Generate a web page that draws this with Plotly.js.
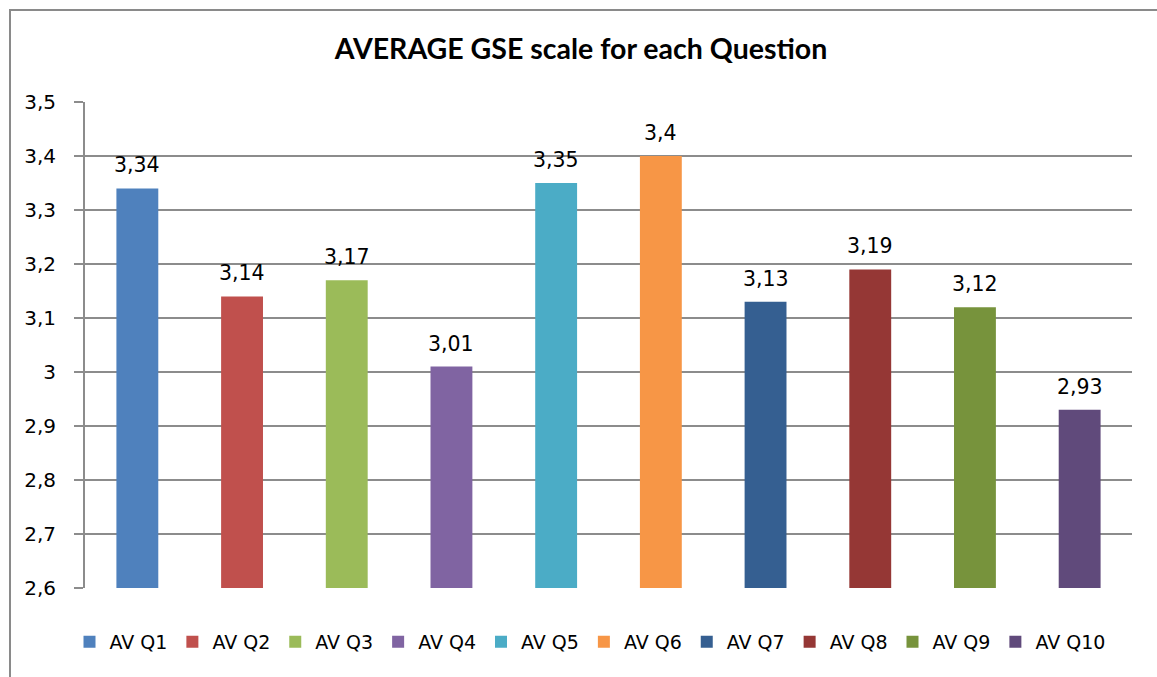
<!DOCTYPE html>
<html>
<head>
<meta charset="utf-8">
<script src="https://cdn.plot.ly/plotly-3.0.1.min.js"></script>
<style>
  html, body { margin: 0; padding: 0; background: #fff; overflow: hidden; }
  #chart { width: 1157px; height: 677px; }
  #frame { position: absolute; left: 9px; top: 9px; width: 1200px; height: 720px;
           border: 2px solid #8a8a8a; pointer-events: none; }
</style>
</head>
<body>
<div id="chart"></div>
<div id="frame"></div>
<script>
const categories = ["AV Q1","AV Q2","AV Q3","AV Q4","AV Q5","AV Q6","AV Q7","AV Q8","AV Q9","AV Q10"];
const values = [3.34, 3.14, 3.17, 3.01, 3.35, 3.4, 3.13, 3.19, 3.12, 2.93];
const colors = ["#4F81BD","#C0504D","#9BBB59","#8064A2","#4BACC6","#F79646","#355F91","#953735","#77933C","#604A7B"];
const tickValues = [2.6, 2.7, 2.8, 2.9, 3.0, 3.1, 3.2, 3.3, 3.4, 3.5];
const tickLabels = ["2,6","2,7","2,8","2,9","3","3,1","3,2","3,3","3,4","3,5"];

const fmt = v => String(v).replace('.', ',');
const FONT = "'DejaVu Sans', sans-serif";
const TITLE_FONT = "Lato, 'Liberation Sans', sans-serif";

const traces = categories.map((c, i) => ({
  type: 'bar',
  name: c,
  x: [c],
  y: [values[i]],
  width: 0.4,
  marker: { color: colors[i] },
  hoverinfo: 'none'
}));

const annotations = categories.map((c, i) => ({
  x: c, y: values[i], xref: 'x', yref: 'y',
  text: fmt(values[i]), showarrow: false,
  yanchor: 'bottom', yshift: 9,
  font: { family: FONT, size: 20.5, color: '#000' }
}));

const layout = {
  width: 1157, height: 677,
  margin: { l: 85, r: 25, t: 102, b: 89, autoexpand: false },
  paper_bgcolor: '#fff', plot_bgcolor: '#fff',
  barmode: 'overlay',
  showlegend: true,
  title: { text: '<b>AVERAGE GSE scale for each Question</b>', x: 581/1157, xref: 'container', xanchor: 'center',
           y: 1 - 49/677, yanchor: 'middle', yref: 'container',
           font: { family: TITLE_FONT, size: 28.5, color: '#000' } },
  xaxis: { type: 'category', categoryorder: 'array', categoryarray: categories,
           showticklabels: false, showgrid: false, zeroline: false, ticks: '',
           showline: false, fixedrange: true },
  yaxis: { range: [2.6, 3.5], tickvals: tickValues, ticktext: tickLabels,
           showgrid: true, gridcolor: '#8c8c8c', gridwidth: 1.6,
           showline: true, linecolor: '#8c8c8c', linewidth: 2,
           ticks: 'outside', ticklen: 9, tickcolor: '#8c8c8c', tickwidth: 1.6,
           ticklabelstandoff: 14,
           zeroline: false,
           tickfont: { family: FONT, size: 20, color: '#000' }, fixedrange: true },
  legend: { orientation: 'h', x: (590 - 85) / 1047, xanchor: 'center', y: -0.111, yanchor: 'middle',
            font: { family: FONT, size: 19, color: '#000' }, traceorder: 'normal',
            itemclick: false, itemdoubleclick: false },
  annotations: annotations
};

Plotly.newPlot('chart', traces, layout, { displayModeBar: false, staticPlot: true });
</script>
</body>
</html>
